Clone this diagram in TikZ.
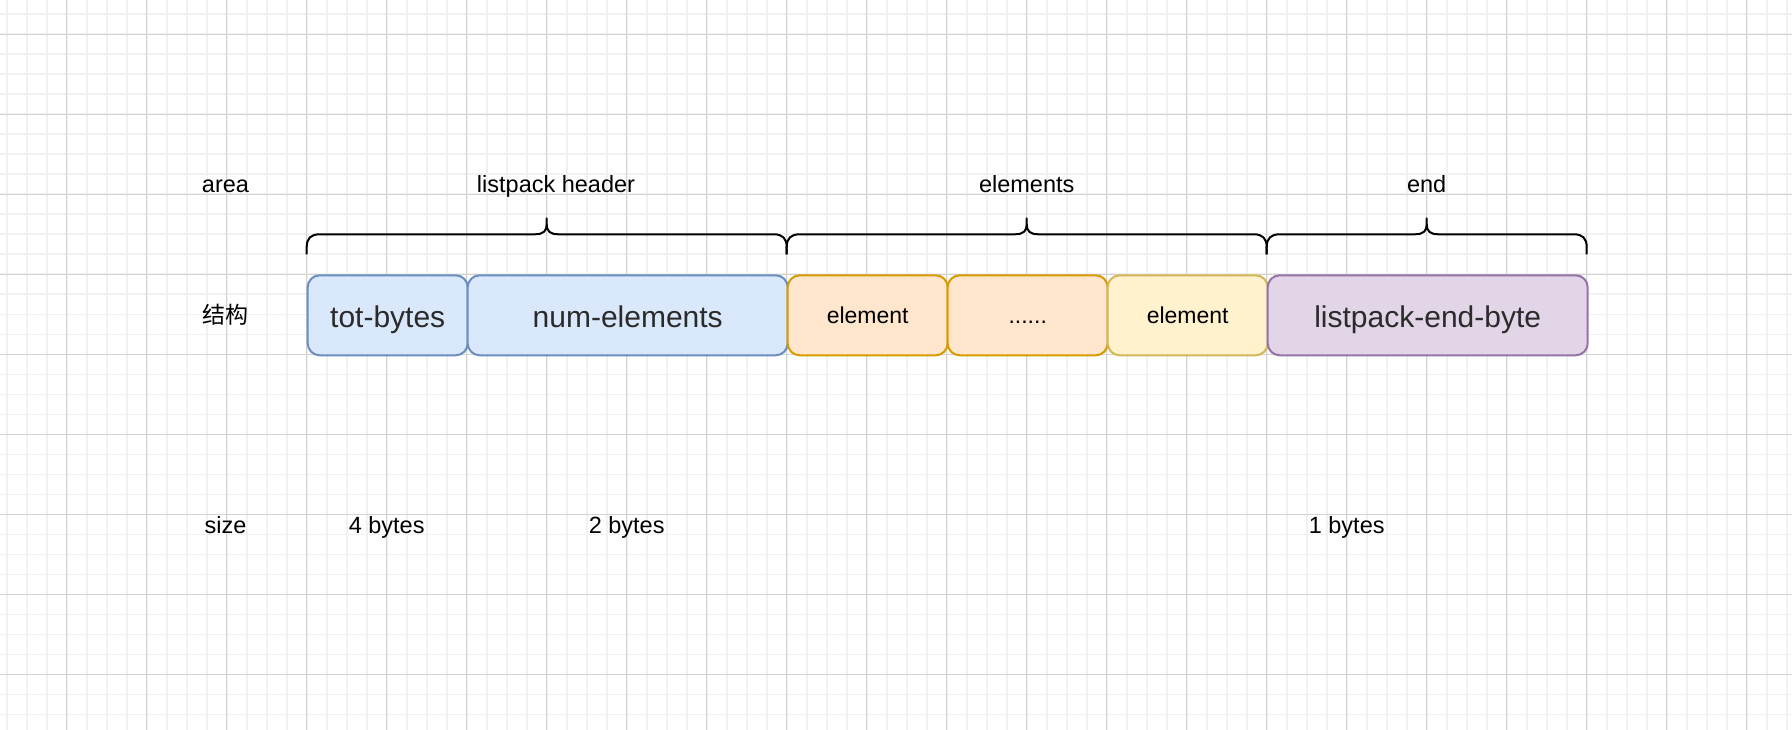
\documentclass[tikz,border=0pt]{standalone}
\usepackage{fontspec}
\setmainfont{Liberation Sans}
\newfontfamily\cjk{Noto Sans CJK SC}
\definecolor{gmin}{HTML}{F1F1F1}
\definecolor{gmaj}{HTML}{D3D3D3}
\definecolor{bluef}{HTML}{DAE8FC}
\definecolor{blued}{HTML}{6C8EBF}
\definecolor{orf}{HTML}{FFE6CC}
\definecolor{ord}{HTML}{D79B00}
\definecolor{yelf}{HTML}{FFF2CC}
\definecolor{yeld}{HTML}{D6B656}
\definecolor{purf}{HTML}{E1D5E7}
\definecolor{purd}{HTML}{9673A6}
\definecolor{boxtext}{HTML}{2B2B2B}
\newcommand\drawbrace[3]{%
 \draw[brc] (#1,254.3) -- (#1,247) .. controls (#1,238.5) and (#1+4,234.3) .. (#1+13,234.3)
   -- (#2-12,234.3) .. controls (#2-3,234.3) and (#2,231) .. (#2,224) -- (#2,218.3)
   -- (#2,224) .. controls (#2,231) and (#2+3,234.3) .. (#2+12,234.3)
   -- (#3-13,234.3) .. controls (#3-4,234.3) and (#3,238.5) .. (#3,247) -- (#3,254.3);}
\begin{document}
\begin{tikzpicture}[x=1pt,y=-1pt,
  gridminor/.style={draw=gmin,line width=1.6pt},
  gridmajor/.style={draw=gmaj,line width=1pt},
  blk/.style={rounded corners=12pt, line width=2pt, inner sep=0pt, minimum height=80pt,
    anchor=north west, text height=23.4pt, text depth=0pt,
    font=\fontsize{30}{36}\selectfont, text=boxtext},
  blksmall/.style={blk, font=\fontsize{23}{28}\selectfont, text=black, text height=16.8pt},
  lbl/.style={anchor=base, font=\fontsize{23.5}{28}\selectfont, inner sep=0pt},
  brc/.style={draw=black, line width=2pt, line join=round}]
\fill[white] (0,0) rectangle (1792,730);
\useasboundingbox (0,0) rectangle (1792,730);
% grid
\foreach \x in {6.7,26.7,...,1790} \draw[gridminor] (\x,0) -- (\x,730);
\foreach \y in {14.3,34.3,...,730} \draw[gridminor] (0,\y) -- (1792,\y);
\foreach \x in {66.7,146.7,...,1790} \draw[gridmajor] (\x,0) -- (\x,730);
\foreach \y in {34.3,114.3,...,730} \draw[gridmajor] (0,\y) -- (1792,\y);
% boxes
\node[blk, fill=bluef, draw=blued, minimum width=160pt] (tot) at (306.7,274.3) {tot-bytes};
\node[blk, fill=bluef, draw=blued, minimum width=320pt] (num) at (466.7,274.3) {num-elements};
\node[blksmall, fill=orf, draw=ord, minimum width=160pt] (el1) at (786.7,274.3) {element};
\node[blksmall, fill=orf, draw=ord, minimum width=160pt] (dots) at (946.7,274.3) {......};
\node[blksmall, fill=yelf, draw=yeld, minimum width=160pt] (el2) at (1106.7,274.3) {element};
\node[blk, fill=purf, draw=purd, minimum width=320pt] (endb) at (1266.7,274.3) {listpack-end-byte};
% braces
\drawbrace{306.7}{546.7}{786.7}
\drawbrace{786.7}{1026.7}{1266.7}
\drawbrace{1266.7}{1426.7}{1586.7}
% labels
\node[lbl] (area) at (225.5,193) {area};
\node[lbl] (hdr) at (556,193) {listpack header};
\node[lbl] (elems) at (1026.7,193) {elements};
\node[lbl] (endl) at (1426.7,193) {end};
\node[font=\cjk\fontsize{23}{28}\selectfont, inner sep=0pt] (jg) at (225.5,315) {结构};
\node[lbl] (size) at (225.5,533) {size};
\node[lbl] (s4) at (386.7,533) {4 bytes};
\node[lbl] (s2) at (626.7,533) {2 bytes};
\node[lbl] (s1) at (1346.7,533) {1 bytes};
\end{tikzpicture}
\end{document}
